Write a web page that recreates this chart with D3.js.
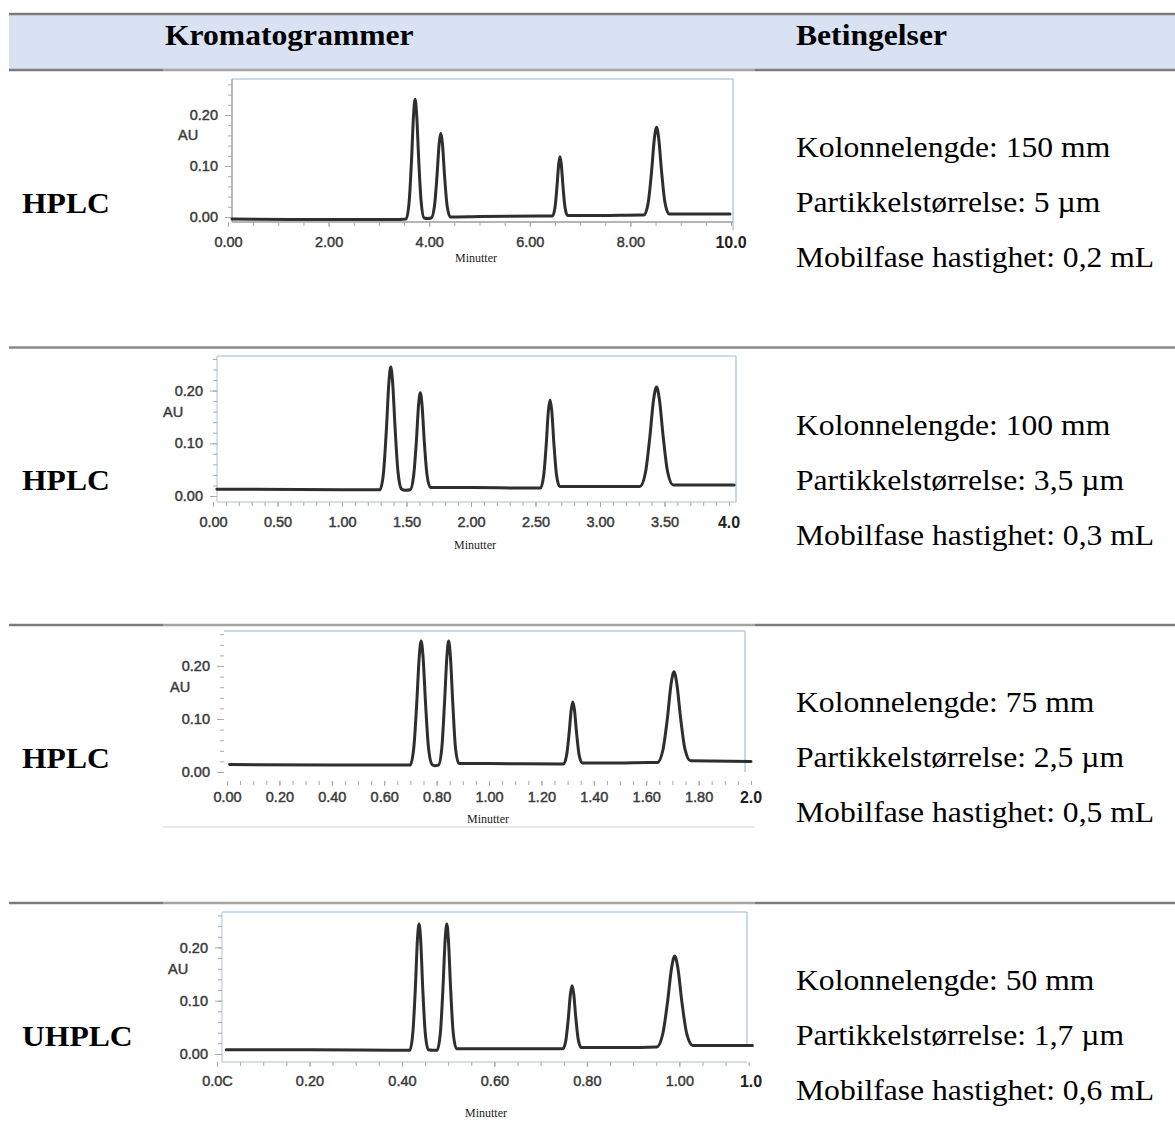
<!DOCTYPE html>
<html>
<head>
<meta charset="utf-8">
<script src="https://cdn.jsdelivr.net/npm/d3@7"></script>
<style>
  body { margin: 0; background: #fff; }
  svg { display: block; }
</style>
</head>
<body>
<div id="chart"></div>
<script>
// tabell-innhold
const headers = ["Kromatogrammer", "Betingelser"];
const rowLabels = ["HPLC", "HPLC", "HPLC", "UHPLC"];
const conditions = [
  ["Kolonnelengde: 150 mm", "Partikkelstørrelse: 5 µm", "Mobilfase hastighet: 0,2 mL"],
  ["Kolonnelengde: 100 mm", "Partikkelstørrelse: 3,5 µm", "Mobilfase hastighet: 0,3 mL"],
  ["Kolonnelengde: 75 mm", "Partikkelstørrelse: 2,5 µm", "Mobilfase hastighet: 0,5 mL"],
  ["Kolonnelengde: 50 mm", "Partikkelstørrelse: 1,7 µm", "Mobilfase hastighet: 0,6 mL"]
];

// y-akse (AU)
const yTicks = [0, 0.1, 0.2];
const yTickText = ["0.00", "0.10", "0.20"];

// x-akser (minutter)
const xTicks1 = [0, 2, 4, 6, 8];
const xTickText1 = ["0.00", "2.00", "4.00", "6.00", "8.00"];
const xEnd1 = 10, xEndText1 = "10.0";
const xTicks2 = [0, 0.5, 1, 1.5, 2, 2.5, 3, 3.5];
const xTickText2 = ["0.00", "0.50", "1.00", "1.50", "2.00", "2.50", "3.00", "3.50"];
const xEnd2 = 4, xEndText2 = "4.0";
const xTicks3 = [0, 0.2, 0.4, 0.6, 0.8, 1.0, 1.2, 1.4, 1.6, 1.8];
const xTickText3 = ["0.00", "0.20", "0.40", "0.60", "0.80", "1.00", "1.20", "1.40", "1.60", "1.80"];
const xEnd3 = 2, xEndText3 = "2.0";
const xTicks4 = [0, 0.2, 0.4, 0.6, 0.8, 1.0];
const xTickText4 = ["0.0C", "0.20", "0.40", "0.60", "0.80", "1.00"];
const xEnd4 = 1.155, xEndText4 = "1.0";

// kromatogrammer [minutter, AU], lest av bildet
const trace1 = [[0.08,-0.004],[1.5,-0.005],[3.3,-0.005],[3.54,-0.004],[3.60,0.028],[3.648,0.110],[3.69,0.202],[3.72,0.231],[3.75,0.202],[3.792,0.111],[3.84,0.030],[3.90,-0.002],[3.97,-0.003],[4.04,-0.002],[4.104,0.021],[4.154,0.079],[4.198,0.144],[4.23,0.164],[4.262,0.145],[4.306,0.080],[4.356,0.022],[4.42,0.000],[5.0,0.001],[6.2,0.002],[6.45,0.002],[6.50,0.018],[6.54,0.059],[6.575,0.104],[6.60,0.118],[6.625,0.104],[6.66,0.060],[6.70,0.019],[6.75,0.003],[7.4,0.003],[8.2,0.004],[8.27,0.004],[8.354,0.028],[8.42,0.088],[8.478,0.155],[8.52,0.176],[8.562,0.155],[8.62,0.089],[8.686,0.029],[8.77,0.006],[9.98,0.006]];
const trace2 = [[0.03,0.013],[1.0,0.012],[1.25,0.012],[1.294,0.012],[1.322,0.045],[1.344,0.126],[1.364,0.217],[1.378,0.245],[1.392,0.217],[1.412,0.127],[1.434,0.046],[1.462,0.013],[1.49,0.011],[1.529,0.012],[1.555,0.038],[1.576,0.102],[1.594,0.174],[1.607,0.196],[1.620,0.174],[1.638,0.103],[1.659,0.040],[1.685,0.016],[2.0,0.016],[2.45,0.015],[2.538,0.015],[2.563,0.038],[2.583,0.097],[2.600,0.162],[2.613,0.182],[2.626,0.162],[2.643,0.098],[2.663,0.040],[2.688,0.018],[3.0,0.018],[3.25,0.018],[3.309,0.018],[3.352,0.044],[3.386,0.111],[3.416,0.184],[3.438,0.207],[3.460,0.184],[3.490,0.112],[3.524,0.046],[3.567,0.021],[4.04,0.021]];
const trace3 = [[0.01,0.014],[0.4,0.013],[0.66,0.013],[0.699,0.013],[0.713,0.046],[0.724,0.128],[0.734,0.219],[0.741,0.247],[0.748,0.219],[0.758,0.128],[0.769,0.046],[0.783,0.014],[0.793,0.012],[0.807,0.013],[0.820,0.046],[0.830,0.128],[0.8395,0.219],[0.846,0.247],[0.8525,0.219],[0.862,0.128],[0.872,0.046],[0.885,0.016],[1.0,0.016],[1.27,0.015],[1.284,0.015],[1.296,0.031],[1.3056,0.072],[1.314,0.118],[1.32,0.132],[1.326,0.118],[1.3344,0.073],[1.344,0.032],[1.356,0.017],[1.5,0.017],[1.6,0.018],[1.643,0.018],[1.664,0.042],[1.681,0.102],[1.6955,0.168],[1.706,0.189],[1.7165,0.168],[1.731,0.103],[1.748,0.043],[1.769,0.021],[2.0,0.020]];
const trace4 = [[0.02,0.008],[0.2,0.008],[0.39,0.007],[0.417,0.007],[0.4236,0.040],[0.429,0.123],[0.4336,0.216],[0.437,0.244],[0.4404,0.216],[0.445,0.123],[0.4504,0.040],[0.457,0.008],[0.467,0.007],[0.476,0.007],[0.4832,0.040],[0.4887,0.123],[0.4936,0.216],[0.497,0.244],[0.5004,0.216],[0.5053,0.123],[0.5108,0.041],[0.518,0.010],[0.6,0.010],[0.7,0.010],[0.748,0.010],[0.7546,0.026],[0.76,0.068],[0.7646,0.114],[0.768,0.128],[0.7714,0.114],[0.776,0.069],[0.7814,0.027],[0.788,0.012],[0.88,0.012],[0.951,0.013],[0.964,0.037],[0.9744,0.097],[0.9835,0.163],[0.99,0.184],[0.9965,0.163],[1.0056,0.097],[1.016,0.038],[1.029,0.016],[1.158,0.016]];

// plassering av hvert diagram (piksler); k = piksler per 1 AU
const layout = [
  { xl: 228, xr: 731, y0: 217, k: 510, fl: 232, fr: 733, ft: 79, fb: 222, rb: 230, axisY: 222, lblBase: 247, mx: 476, my: 262, minor: 0.5, sides: "gray" },
  { xl: 213, xr: 729, y0: 496, k: 527, fl: 217, fr: 736, ft: 356, fb: 502, rb: 502, axisY: 502, lblBase: 527, mx: 475, my: 549, minor: 0.1, sides: "box" },
  { xl: 227, xr: 751, y0: 772, k: 530, fl: 224, fr: 745, ft: 631, fb: null, rb: 772, axisY: 781, lblBase: 802, mx: 488, my: 823, minor: 0.05, sides: "open" },
  { xl: 217, xr: 751, y0: 1054, k: 533, fl: 222, fr: 747, ft: 912, fb: 1062, rb: 1047, axisY: 1062, lblBase: 1086, mx: 486, my: 1117, minor: 0.05, sides: "box" }
];
const charts = [
  { trace: trace1, ticks: xTicks1, text: xTickText1, end: xEnd1, endText: xEndText1 },
  { trace: trace2, ticks: xTicks2, text: xTickText2, end: xEnd2, endText: xEndText2 },
  { trace: trace3, ticks: xTicks3, text: xTickText3, end: xEnd3, endText: xEndText3 },
  { trace: trace4, ticks: xTicks4, text: xTickText4, end: xEnd4, endText: xEndText4 }
];

const W = 1175, H = 1124;
const serif = "'Liberation Serif', 'Times New Roman', serif";
const sans = "'Liberation Sans', Arial, sans-serif";
const rowTop = [70, 347.5, 625, 903];

const svg = d3.select("#chart").append("svg").attr("width", W).attr("height", H);

// header
svg.append("rect").attr("x", 9).attr("y", 15).attr("width", W - 9).attr("height", 55).attr("fill", "#d9e2f3");

function hline(y, x1, x2, color, w) {
  svg.append("line").attr("x1", x1).attr("x2", x2).attr("y1", y).attr("y2", y)
    .attr("stroke", color).attr("stroke-width", w);
}
hline(14, 9, W, "#7b7b7b", 2.5);
[70, 625, 903].forEach(y => {
  hline(y, 9, 163, "#7b7b7b", 2.5);
  hline(y, 163, 755, "#a4a4a4", 2.5);
  hline(y, 755, W, "#7b7b7b", 2.5);
});
hline(347.5, 9, W, "#8a8a8a", 2.5);
hline(827, 163, 755, "#d6d6d6", 1.2);

function serifText(x, y, str, bold) {
  svg.append("text")
    .attr("transform", `translate(${x},${y}) scale(1.09,1)`)
    .attr("font-family", serif).attr("font-size", 29)
    .attr("font-weight", bold ? "bold" : "normal")
    .attr("fill", "#000")
    .text(str);
}
serifText(165, 45, headers[0], true);
serifText(796, 45, headers[1], true);

rowLabels.forEach((lab, i) => {
  serifText(22, rowTop[i] + 142.5, lab, true);
  conditions[i].forEach((c, j) => serifText(796, rowTop[i] + 87 + j * 55, c, false));
});

// kromatogrammer
charts.forEach((ch, i) => {
  const c = layout[i];
  const x = d3.scaleLinear().domain([0, ch.end]).range([c.xl, c.xr]);
  const y = d3.scaleLinear().domain([0, 1]).range([c.y0, c.y0 - c.k]);
  const g = svg.append("g");

  const frameBlue = "#b9cfe5", axisGray = "#a9a9a9";
  // ramme
  g.append("line").attr("x1", c.fl).attr("x2", c.fr).attr("y1", c.ft).attr("y2", c.ft)
    .attr("stroke", frameBlue).attr("stroke-width", 1.6);
  g.append("line").attr("x1", c.fr).attr("x2", c.fr).attr("y1", c.ft).attr("y2", c.rb)
    .attr("stroke", frameBlue).attr("stroke-width", 1.6);
  if (c.sides !== "open") {
    const col = c.sides === "gray" ? "#9c9c9c" : "#c9d3dd";
    g.append("line").attr("x1", c.fl).attr("x2", c.fl).attr("y1", c.ft).attr("y2", c.fb)
      .attr("stroke", col).attr("stroke-width", 1.4);
    g.append("line").attr("x1", c.fl).attr("x2", c.fr).attr("y1", c.fb).attr("y2", c.fb)
      .attr("stroke", col).attr("stroke-width", 1.4);
  }

  // y-akse: små streker + hovedstreker
  const yMinor = d3.range(0, 0.27, 0.02).filter(v => y(v) > c.ft + 2);
  const gyMinor = g.append("g").attr("transform", `translate(${c.fl},0)`)
    .call(d3.axisLeft(y).tickValues(yMinor).tickSize(4).tickFormat(""));
  const gy = g.append("g").attr("transform", `translate(${c.fl},0)`)
    .call(d3.axisLeft(y).tickValues(yTicks).tickSize(7).tickPadding(7)
      .tickFormat((d, j) => yTickText[j]));

  // x-akse
  const xMinor = d3.range(0, ch.end + 1e-9, c.minor);
  const gxMinor = g.append("g").attr("transform", `translate(0,${c.axisY})`)
    .call(d3.axisBottom(x).tickValues(xMinor).tickSize(4).tickFormat(""));
  const gx = g.append("g").attr("transform", `translate(0,${c.axisY})`)
    .call(d3.axisBottom(x).tickValues(ch.ticks).tickSize(5).tickPadding(c.lblBase - c.axisY - 15)
      .tickFormat((d, j) => ch.text[j]));

  [gyMinor, gy, gxMinor, gx].forEach(a => {
    a.select(".domain").remove();
    a.selectAll(".tick line").attr("stroke", axisGray).attr("stroke-width", 1);
    a.selectAll("text").attr("font-family", sans).attr("font-size", 14.5)
      .attr("fill", "#3a3a3a").attr("stroke", "#3a3a3a").attr("stroke-width", 0.45);
  });

  // slutt-etikett
  g.append("text").attr("x", x(ch.end)).attr("y", c.lblBase + 1)
    .attr("text-anchor", "middle").attr("font-family", sans).attr("font-size", 16)
    .attr("font-weight", "bold").attr("fill", "#222").text(ch.endText);

  g.append("text").attr("x", c.fl - 54).attr("y", y(0.16)).attr("dy", "0.35em")
    .attr("font-family", sans).attr("font-size", 14.5)
    .attr("fill", "#3a3a3a").attr("stroke", "#3a3a3a").attr("stroke-width", 0.45).text("AU");

  g.append("text").attr("x", c.mx).attr("y", c.my).attr("text-anchor", "middle")
    .attr("font-family", serif).attr("font-size", 12).attr("fill", "#222").text("Minutter");

  const line = d3.line()
    .x(d => x(d[0]))
    .y(d => y(d[1]))
    .curve(d3.curveMonotoneX);
  g.append("path").datum(ch.trace)
    .attr("d", line)
    .attr("fill", "none")
    .attr("stroke", "#2e2e2e")
    .attr("stroke-width", 3)
    .attr("stroke-linejoin", "round")
    .attr("stroke-linecap", "round");
});
</script>
</body>
</html>
